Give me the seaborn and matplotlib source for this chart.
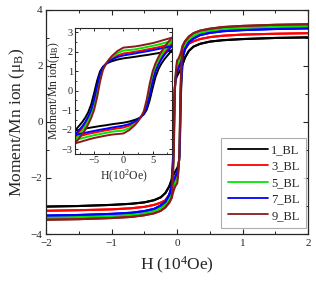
import matplotlib
matplotlib.use("Agg")
import matplotlib.pyplot as plt
from matplotlib.lines import Line2D
from matplotlib.ticker import MultipleLocator
import seaborn as sns
import pandas as pd

# ---------------- data ----------------
samples = ["1_BL", "3_BL", "5_BL", "7_BL", "9_BL"]
colors = ["#000000", "#ff0000", "#00e600", "#0000ff", "#8b1a1a"]

# inset: ascending branch, field in 10^2 Oe
inset_H = [-8.3, -7, -6, -5, -4, -3, -2, -1, 0, 1, 2, 2.5, 3, 3.5, 4, 4.5, 5, 5.5, 6, 6.5, 7, 7.5, 8.3]
inset_M = {
    "1_BL": [-2.06, -1.98, -1.92, -1.87, -1.82, -1.78, -1.73, -1.69, -1.65, -1.59, -1.50, -1.44, -1.36, -1.22, -0.98, -0.50, 0.12, 0.70, 1.10, 1.38, 1.60, 1.78, 2.06],
    "3_BL": [-2.39, -2.30, -2.22, -2.16, -2.10, -2.04, -1.99, -1.94, -1.90, -1.80, -1.63, -1.52, -1.36, -1.15, -0.75, -0.05, 0.65, 1.12, 1.45, 1.70, 1.92, 2.10, 2.39],
    "5_BL": [-2.54, -2.44, -2.36, -2.29, -2.23, -2.17, -2.11, -2.08, -2.05, -1.92, -1.70, -1.55, -1.36, -1.13, -0.65, 0.05, 0.75, 1.22, 1.56, 1.83, 2.05, 2.24, 2.54],
    "7_BL": [-2.28, -2.20, -2.13, -2.07, -2.01, -1.96, -1.90, -1.85, -1.80, -1.72, -1.58, -1.49, -1.36, -1.18, -0.85, -0.25, 0.45, 0.98, 1.32, 1.60, 1.82, 2.00, 2.28],
    "9_BL": [-2.71, -2.60, -2.51, -2.43, -2.37, -2.31, -2.26, -2.23, -2.20, -2.03, -1.76, -1.58, -1.36, -1.05, -0.45, 0.35, 0.98, 1.40, 1.72, 2.00, 2.22, 2.42, 2.71],
}

# main: high-field tail of the ascending branch, field in 10^4 Oe
tail_H = [0.12, 0.18, 0.25, 0.35, 0.5, 0.7, 1.0, 1.5, 2.0]
tail_M = {
    "1_BL": [2.30, 2.54, 2.69, 2.79, 2.87, 2.92, 2.96, 3.00, 3.02],
    "3_BL": [2.60, 2.80, 2.88, 2.96, 3.03, 3.08, 3.12, 3.15, 3.17],
    "5_BL": [2.75, 2.95, 3.07, 3.17, 3.26, 3.32, 3.36, 3.40, 3.42],
    "7_BL": [2.60, 2.85, 2.98, 3.10, 3.18, 3.24, 3.28, 3.32, 3.34],
    "9_BL": [2.88, 3.05, 3.17, 3.26, 3.33, 3.39, 3.43, 3.47, 3.49],
}

main_xticks = [-2, -1, 0, 1, 2]
main_yticks = [-4, -2, 0, 2, 4]
inset_xticks = [-5, 0, 5]
inset_yticks = [-3, -2, -1, 0, 1, 2, 3]


def loop_frame(Hs, Ms_by_sample):
    rows = []
    for s in samples:
        Ms = Ms_by_sample[s]
        for h, m in zip(Hs, Ms):
            rows.append((h, m, s, "up"))
        for h, m in zip(Hs[::-1], Ms[::-1]):
            rows.append((-h, -m, s, "down"))
    return pd.DataFrame(rows, columns=["H", "M", "sample", "branch"])


main_M = {}
main_H = [-h for h in tail_H[::-1]] + [h / 100 for h in inset_H] + tail_H
for s in samples:
    main_M[s] = [-m for m in tail_M[s][::-1]] + inset_M[s] + tail_M[s]

df_main = loop_frame(main_H, main_M)
df_inset = loop_frame(inset_H, inset_M)

# ---------------- style ----------------
sns.set_theme(style="ticks")
plt.rcParams["font.family"] = ["Liberation Serif", "DejaVu Serif"]
plt.rcParams["mathtext.fontset"] = "custom"
plt.rcParams["mathtext.rm"] = "Liberation Serif"
plt.rcParams["mathtext.it"] = "Liberation Serif:italic"
plt.rcParams["xtick.direction"] = "in"
plt.rcParams["ytick.direction"] = "in"
plt.rcParams["xtick.top"] = True
plt.rcParams["ytick.right"] = True
plt.rcParams["axes.linewidth"] = 0.9

palette = dict(zip(samples, colors))

fig = plt.figure(figsize=(3.16, 2.84), dpi=100)
ax = fig.add_axes([0.146, 0.176, 0.829, 0.789])

sns.lineplot(data=df_main, x="H", y="M", hue="sample", units="branch",
             estimator=None, sort=False, palette=palette, hue_order=samples,
             linewidth=1.5, legend=False, ax=ax)

ax.set_xlim(-2, 2)
ax.set_ylim(-4, 4)
ax.set_xticks(main_xticks)
ax.set_yticks(main_yticks)
ax.xaxis.set_minor_locator(MultipleLocator(0.5))
ax.yaxis.set_minor_locator(MultipleLocator(1))
ax.tick_params(which="major", length=3.5, width=0.8, labelsize=8)
ax.tick_params(axis="x", which="major", pad=3.5)
ax.tick_params(axis="y", which="major", pad=2.5)
ax.tick_params(which="minor", length=2, width=0.7)
ax.set_xlabel("H (10$^4$Oe)", fontsize=12.5, labelpad=5)
ax.set_ylabel("Moment/Mn ion (μ$_\\mathrm{B}$)", fontsize=12.5, labelpad=3)

handles = [Line2D([0], [0], color=c, lw=1.3) for c in colors]
leg = ax.legend(handles, samples, loc="lower right", fontsize=9,
                frameon=True, fancybox=False, handlelength=3.2,
                handletextpad=0.3, borderaxespad=0, labelspacing=0.35,
                borderpad=0.5,
                bbox_to_anchor=(306 / 316, (284 - 228) / 284),
                bbox_transform=fig.transFigure)
leg.get_frame().set_edgecolor("#999999")
leg.get_frame().set_linewidth(0.8)

# ---------------- inset ----------------
axi = fig.add_axes([0.237, 0.458, 0.307, 0.443])
sns.lineplot(data=df_inset, x="H", y="M", hue="sample", units="branch",
             estimator=None, sort=False, palette=palette, hue_order=samples,
             linewidth=1.4, legend=False, ax=axi)
axi.set_xlim(-8.3, 8.3)
axi.set_ylim(-3.25, 3.2)
axi.set_xticks(inset_xticks)
axi.set_yticks(inset_yticks)
axi.xaxis.set_minor_locator(MultipleLocator(2.5))
axi.yaxis.set_minor_locator(MultipleLocator(0.5))
axi.tick_params(which="major", length=2.5, width=0.7, labelsize=7.5, pad=1.5)
axi.tick_params(which="minor", length=1.5, width=0.6)
axi.set_xlabel("H(10$^2$Oe)", fontsize=8.5, labelpad=2)
axi.set_ylabel("Moment/Mn ion(μ$_\\mathrm{B}$)", fontsize=8.5, labelpad=0)
for sp in axi.spines.values():
    sp.set_linewidth(0.8)

fig.savefig("out.png", dpi=100)
